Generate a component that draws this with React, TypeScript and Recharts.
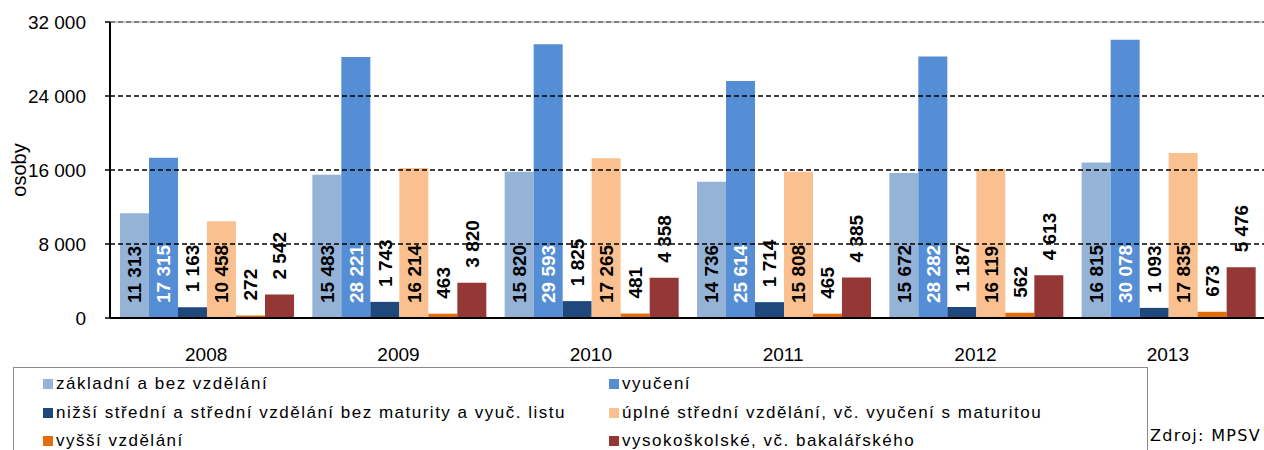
import React from 'react';
import { BarChart, Bar, XAxis, YAxis, ReferenceLine, LabelList } from 'recharts';

const years = ['2008', '2009', '2010', '2011', '2012', '2013'];

const zakladni = [11313, 15483, 15820, 14736, 15672, 16815];
const vyuceni = [17315, 28221, 29593, 25614, 28282, 30078];
const nizsiStredni = [1163, 1743, 1825, 1714, 1187, 1093];
const uplneStredni = [10458, 16214, 17265, 15808, 16119, 17835];
const vyssi = [272, 463, 481, 465, 562, 673];
const vysokoskolske = [2542, 3820, 4358, 4385, 4613, 5476];

const yTicks = [0, 8000, 16000, 24000, 32000];
const gridValues = [8000, 16000, 24000];
const edgeTicks = [0, 1, 2, 3, 4, 5, 6];

type Series = { key: string; name: string; values: number[]; color: string; labelAt: 'base' | 'end'; labelColor: string };

const series: Series[] = [
  { key: 'zakladni', name: 'základní a bez vzdělání', values: zakladni, color: '#95B3D7', labelAt: 'base', labelColor: '#000' },
  { key: 'vyuceni', name: 'vyučení', values: vyuceni, color: '#558ED5', labelAt: 'base', labelColor: '#fff' },
  { key: 'nizsi', name: 'nižší střední a střední vzdělání bez maturity a vyuč. listu', values: nizsiStredni, color: '#1F497D', labelAt: 'end', labelColor: '#000' },
  { key: 'uplne', name: 'úplné střední vzdělání, vč. vyučení s maturitou', values: uplneStredni, color: '#FAC090', labelAt: 'base', labelColor: '#000' },
  { key: 'vyssi', name: 'vyšší vzdělání', values: vyssi, color: '#E46C0A', labelAt: 'end', labelColor: '#000' },
  { key: 'vs', name: 'vysokoškolské, vč. bakalářského', values: vysokoskolske, color: '#953735', labelAt: 'end', labelColor: '#000' },
];

const data = years.map((year, i) => {
  const row: Record<string, string | number> = { year };
  series.forEach((s) => {
    row[s.key] = s.values[i];
  });
  return row;
});

const fmt = (v: number) => String(v).replace(/\B(?=(\d{3})+(?!\d))/g, ' ');

const FONT = 'Arial, "Liberation Sans", sans-serif';

const makeLabel = (mode: 'base' | 'end', color: string) => (props: any) => {
  const x = Number(props.x);
  const y = Number(props.y);
  const w = Number(props.width);
  const h = Number(props.height);
  const cx = x + w / 2;
  const ty = mode === 'base' ? y + h - 15 : y - 15;
  return (
    <text
      x={cx}
      y={ty}
      transform={`rotate(-90 ${cx} ${ty})`}
      textAnchor="start"
      dy="0.36em"
      fill={color}
      fontSize={19}
      fontWeight="bold"
      fontFamily={FONT}
    >
      {fmt(Number(props.value))}
    </text>
  );
};

const YLabel = (props: any) => {
  const vb = props.viewBox;
  const x = vb.x + 19;
  const y = vb.y + vb.height / 2;
  return (
    <text x={x} y={y} transform={`rotate(-90 ${x} ${y})`} textAnchor="middle" dy="0.36em" fontSize={20} fontFamily={FONT} fill="#000">
      osoby
    </text>
  );
};

export default function App() {
  return (
    <div style={{ position: 'relative', width: 1264, height: 450, overflow: 'hidden', fontFamily: FONT, background: '#fff' }}>
      <style>{'html,body{margin:0;padding:0;overflow:hidden}'}</style>
      <BarChart width={1264} height={450} data={data} margin={{ top: 22, right: 0, left: 0, bottom: 92 }} barCategoryGap={10} barGap={0}>
        <XAxis
          xAxisId="edge"
          type="number"
          domain={[0, 6]}
          allowDataOverflow
          ticks={edgeTicks}
          tick={false}
          tickSize={5}
          tickLine={{ stroke: '#000', strokeWidth: 1.5 }}
          axisLine={false}
          height={0}
        />
        <XAxis
          xAxisId="cat"
          dataKey="year"
          height={40}
          tickLine={false}
          tickSize={0}
          tickMargin={30}
          axisLine={{ stroke: '#000', strokeWidth: 2 }}
          tick={{ fill: '#000', fontSize: 19, fontFamily: FONT }}
          interval={0}
        />
        <YAxis
          width={110}
          domain={[0, 32000]}
          ticks={yTicks}
          tickFormatter={fmt}
          tickSize={5}
          tickMargin={19}
          axisLine={{ stroke: '#000', strokeWidth: 2 }}
          tickLine={{ stroke: '#000', strokeWidth: 1.5 }}
          tick={{ fill: '#000', fontSize: 19, fontFamily: FONT }}
          label={<YLabel />}
        />
        <ReferenceLine xAxisId="cat" y={32000} stroke="#cfcfcf" strokeWidth={2} />
        <ReferenceLine xAxisId="cat" y={32000} stroke="#808080" strokeWidth={2} strokeDasharray="5 3" />
        {gridValues.map((v) => (
          <ReferenceLine key={v} xAxisId="cat" y={v} stroke="#000" strokeWidth={1.6} strokeDasharray="5 3" />
        ))}
        {series.map((s) => (
          <Bar key={s.key} xAxisId="cat" dataKey={s.key} name={s.name} fill={s.color} isAnimationActive={false}>
            <LabelList dataKey={s.key} content={makeLabel(s.labelAt, s.labelColor)} />
          </Bar>
        ))}
      </BarChart>

      <div style={{ position: 'absolute', left: 13, top: 367, width: 1133, height: 100, border: '1px solid #8c8c8c' }} />
      {series.map((s, i) => (
        <div
          key={s.key}
          style={{
            position: 'absolute',
            left: i % 2 === 0 ? 43 : 609,
            top: 374 + Math.floor(i / 2) * 28.5,
            height: 20,
            display: 'flex',
            alignItems: 'center',
            whiteSpace: 'nowrap',
            fontSize: 17,
            letterSpacing: 1.5,
            color: '#000',
          }}
        >
          <span style={{ display: 'inline-block', width: 10, height: 10, background: s.color, marginRight: 3 }} />
          <span>{s.name}</span>
        </div>
      ))}
      <div style={{ position: 'absolute', left: 1150, top: 426, fontFamily: '"DejaVu Sans", sans-serif', fontSize: 16, letterSpacing: 1.3, whiteSpace: 'nowrap', color: '#000' }}>
        Zdroj: MPSV
      </div>
    </div>
  );
}
